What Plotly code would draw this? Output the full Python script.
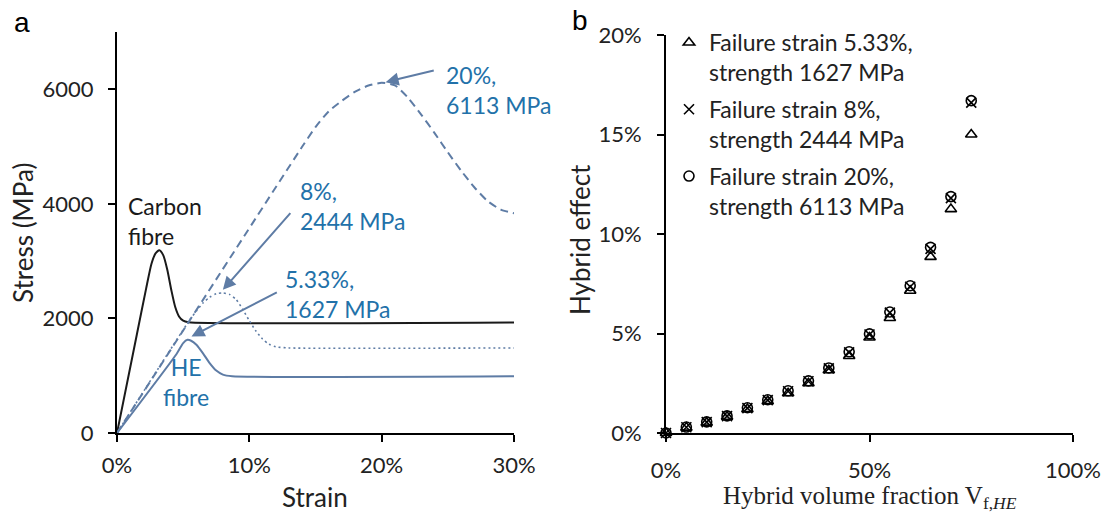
import plotly.graph_objects as go

# ---------------- Panel a data (strain %, stress MPa) ----------------
carbon_strain = [0, 1.5, 2.2, 2.6, 2.9, 3.2, 3.5, 3.8, 4.1, 4.4, 4.7, 5.0, 5.4, 30]
carbon_stress = [0, 1720, 2520, 2950, 3130, 3190, 3100, 2850, 2500, 2200, 2030, 1960, 1935, 1930]

he533_strain = [0, 4.5, 5.0, 5.33, 5.6, 6.0, 6.5, 7.0, 7.5, 8.0, 8.7, 30]
he533_stress = [0, 1380, 1570, 1627, 1610, 1540, 1390, 1220, 1090, 1020, 992, 990]

he8_strain = [0, 5.5, 6.0, 6.5, 7.0, 7.5, 8.0, 8.5, 9.0, 9.5, 10.0, 10.5, 11.0, 11.5, 12.0, 13.0, 30]
he8_stress = [0, 1975, 2130, 2270, 2370, 2430, 2444, 2420, 2330, 2160, 1960, 1780, 1640, 1550, 1505, 1485, 1485]

he20_strain = [0, 14, 15, 16, 17, 18, 19, 20, 21, 22, 23, 24, 25, 26, 27, 28, 29, 30]
he20_stress = [0, 5000, 5340, 5615, 5800, 5960, 6065, 6113, 6070, 5850, 5555, 5235, 4900, 4580, 4290, 4050, 3900, 3836]

# ---------------- Panel b data ----------------
vf = [0, 5, 10, 15, 20, 25, 30, 35, 40, 45, 50, 55, 60, 65, 70, 75]
effect_533 = [0, 0.27, 0.52, 0.82, 1.2, 1.6, 2.0, 2.5, 3.15, 3.87, 4.8, 5.78, 7.15, 8.85, 11.25, 15.0]
effect_8 = [0, 0.29, 0.55, 0.85, 1.25, 1.65, 2.1, 2.6, 3.25, 4.05, 4.95, 6.05, 7.35, 9.25, 11.8, 16.6]
effect_20 = [0, 0.30, 0.56, 0.86, 1.27, 1.67, 2.12, 2.62, 3.27, 4.08, 4.98, 6.08, 7.4, 9.33, 11.88, 16.7]

names_b = ["Failure strain 5.33%,<br>strength 1627 MPa",
           "Failure strain 8%,<br>strength 2444 MPa",
           "Failure strain 20%,<br>strength 6113 MPa"]

a_xticks = [0, 10, 20, 30]
a_xticktext = ["0%", "10%", "20%", "30%"]
a_yticks = [0, 2000, 4000, 6000]
a_yticktext = ["0", "2000", "4000", "6000"]
b_xticks = [0, 50, 100]
b_xticktext = ["0%", "50%", "100%"]
b_yticks = [0, 5, 10, 15, 20]
b_yticktext = ["0%", "5%", "10%", "15%", "20%"]

CURVE = "#5e7ca5"
TXT_BLUE = "#2271a9"
FONT = "Lato"

fig = go.Figure()

fig.add_trace(go.Scatter(x=carbon_strain, y=carbon_stress, mode="lines",
                         line=dict(color="#1a1a1a", width=2, shape="spline", smoothing=0.6),
                         showlegend=False, xaxis="x", yaxis="y"))
fig.add_trace(go.Scatter(x=he8_strain, y=he8_stress, mode="lines",
                         line=dict(color=CURVE, width=1.6, dash="2px,3px", shape="spline", smoothing=0.6),
                         showlegend=False, xaxis="x", yaxis="y"))
fig.add_trace(go.Scatter(x=he20_strain, y=he20_stress, mode="lines",
                         line=dict(color=CURVE, width=2, dash="8px,5px", shape="spline", smoothing=0.6),
                         showlegend=False, xaxis="x", yaxis="y"))
fig.add_trace(go.Scatter(x=he533_strain, y=he533_stress, mode="lines",
                         line=dict(color=CURVE, width=2, shape="spline", smoothing=0.6),
                         showlegend=False, xaxis="x", yaxis="y"))

sym = ["triangle-up-open", "x-thin-open", "circle-open"]
for name, ys, s in zip(names_b, [effect_533, effect_8, effect_20], sym):
    fig.add_trace(go.Scatter(x=vf, y=ys, mode="markers", name=name, cliponaxis=False,
                             legendgroup=name,
                             marker=dict(symbol=s, size=10, color="black",
                                         line=dict(color="black", width=1.6)),
                             xaxis="x2", yaxis="y2"))

axis_common = dict(showline=True, linecolor="black", linewidth=2, ticks="outside",
                   ticklen=7, tickwidth=2, tickcolor="black", showgrid=False, zeroline=False,
                   automargin=False,
                   tickfont=dict(family=FONT, size=22, color="#222"), fixedrange=True)

fig.update_layout(
    width=1106, height=512, margin=dict(l=0, r=0, t=0, b=0, pad=0, autoexpand=False),
    paper_bgcolor="white", plot_bgcolor="white",
    xaxis=dict(domain=[117/1106, 514/1106], range=[0, 30], tickvals=a_xticks, ticktext=a_xticktext,
               anchor="y", ticklabelstandoff=5, **axis_common),
    yaxis=dict(domain=[(512-433)/512, (512-32)/512], range=[0, 7000], tickvals=a_yticks,
               ticktext=a_yticktext, anchor="x", ticklabelstandoff=10, **axis_common),
    xaxis2=dict(domain=[666/1106, 1073/1106], range=[0, 100], tickvals=b_xticks,
                ticktext=b_xticktext, anchor="y2", ticklabelstandoff=10, **axis_common),
    yaxis2=dict(domain=[(512-433)/512, (512-35)/512], range=[0, 20], tickvals=b_yticks,
                ticktext=b_yticktext, anchor="x2", ticklabelstandoff=11, **axis_common),
    showlegend=True,
    legend=dict(x=669/1106, y=1-21/512, xanchor="left", yanchor="top",
                font=dict(family=FONT, size=23, color="#222"), valign="top",
                tracegroupgap=4, bgcolor="rgba(0,0,0,0)", itemwidth=30),
)

ann = []
def txt(text, x, y, size, color, family=FONT, xref="paper", yref="paper", angle=0,
        xanchor="center", yanchor="middle", align="center"):
    ann.append(dict(text=text, x=x, y=y, xref=xref, yref=yref, showarrow=False, textangle=angle,
                    xanchor=xanchor, yanchor=yanchor, align=align,
                    font=dict(family=family, size=size, color=color)))

# Panel labels
txt("a", 22/1106, 1-22/512, 28, "black", family="Liberation Sans")
txt("b", 580/1106, 1-20/512, 28, "black", family="Liberation Sans")
# Axis titles
txt("Stress (MPa)", 23/1106, 1-233/512, 26, "#222", angle=-90)
txt("Strain", 315/1106, 1-497/512, 26, "#222")
txt("Hybrid effect", 580/1106, 1-240/512, 26, "#222", angle=-90)
txt("Hybrid volume fraction V<sub>f,<i>HE</i></sub>", 870/1106, 1-497/512, 25, "#222",
    family="Liberation Serif")

# Curve labels (data coords)
txt("Carbon<br>fibre", 0.7, 3694, 23, "#1a1a1a", xref="x", yref="y", xanchor="left", align="left")
txt("HE<br>fibre", 5.25, 894, 23, TXT_BLUE, xref="x", yref="y")
txt("20%,<br>6113 MPa", 24.73, 5995, 23, TXT_BLUE, xref="x", yref="y", xanchor="left", align="left")
txt("8%,<br>2444 MPa", 13.7, 3960, 23, TXT_BLUE, xref="x", yref="y", xanchor="left", align="left")
txt("5.33%,<br>1627 MPa", 12.57, 2430, 23, TXT_BLUE, xref="x", yref="y", xanchor="left", align="left")

# Arrows pointing at the failure points
arrows = [((20.3, 6125), (24.05, 6334)),
          ((8.0, 2499), (13.2, 3864)),
          ((5.63, 1684), (12.19, 2469))]
for (tx, ty), (sx, sy) in arrows:
    ann.append(dict(text="", x=tx, y=ty, ax=sx, ay=sy, xref="x", yref="y", axref="x", ayref="y",
                    showarrow=True, arrowhead=2, arrowsize=1.3, arrowwidth=2, arrowcolor=CURVE,
                    standoff=0, startstandoff=0))

fig.update_layout(annotations=ann)
fig.write_html("out.html", config={"displayModeBar": False},
               post_script="document.body.style.margin='0';document.body.style.overflow='hidden';")
